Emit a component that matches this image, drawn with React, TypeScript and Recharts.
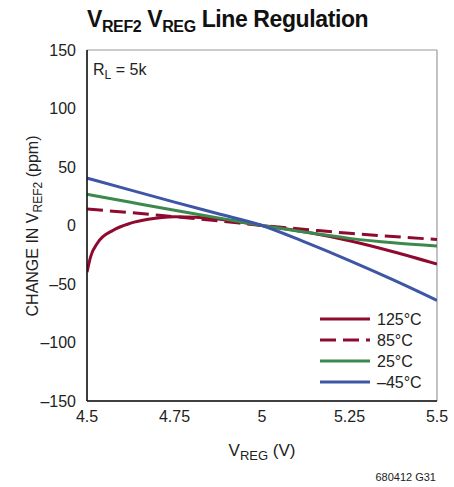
import React from "react";
import { LineChart, Line, XAxis, YAxis, CartesianGrid } from "recharts";

// V_REG sample points (volts)
const vreg125 = [4.5, 4.51, 4.53, 4.575, 4.625, 4.675, 4.75, 4.875, 5, 5.125, 5.25, 5.375, 5.5];
const vregStd = [4.5, 4.625, 4.75, 4.875, 5, 5.125, 5.25, 5.375, 5.5];

// change in V_REF2 (ppm)
const ppm125 = [-40, -27, -15, -4, 2, 5.3, 7.5, 5.5, 0, -5.6, -13, -22.4, -33];
const ppm85 = [14, 11, 7.5, 4, 0, -3.4, -6.7, -9.4, -12];
const ppm25 = [26.7, 19.8, 13, 6.5, 0, -5.8, -11, -14.8, -17.5];
const ppmM45 = [40.5, 30.2, 20, 10, 0, -14.5, -30, -46.5, -64];

const xTicks = [4.5, 4.75, 5, 5.25, 5.5];
const yTicks = [-150, -100, -50, 0, 50, 100, 150];
const legendLabels = ["125°C", "85°C", "25°C", "–45°C"];

const RED = "#8e0a2f";
const GREEN = "#3b8a4c";
const BLUE = "#3d56a6";
const FONT = "'Liberation Sans Narrow', 'Arial Narrow', 'Liberation Sans', sans-serif";

const toRows = (xs: number[], ys: number[]) => xs.map((v, i) => ({ v, ppm: ys[i] }));

const series = [
  { name: legendLabels[0], data: toRows(vreg125, ppm125), color: RED, dash: undefined },
  { name: legendLabels[1], data: toRows(vregStd, ppm85), color: RED, dash: "16 7" },
  { name: legendLabels[2], data: toRows(vregStd, ppm25), color: GREEN, dash: undefined },
  { name: legendLabels[3], data: toRows(vregStd, ppmM45), color: BLUE, dash: undefined },
];

const tickStyle = { fontSize: 16, fill: "#222", fontFamily: FONT };
const fmtY = (n: number) => (n < 0 ? "\u2013" + Math.abs(n) : String(n));

const Overlay = () => (
  <svg
    width={454}
    height={487}
    style={{ position: "absolute", left: 0, top: 0, pointerEvents: "none" }}
    fontFamily={FONT}
  >
    <text x={87} y={27} fontSize={23} fontWeight="bold" fill="#111" letterSpacing={-0.4}>
      V<tspan fontSize={16} dy={5}>REF2</tspan>
      <tspan dy={-5}> V</tspan>
      <tspan fontSize={16} dy={5}>REG</tspan>
      <tspan dy={-5}> Line Regulation</tspan>
    </text>

    <text x={93} y={75} fontSize={16} fill="#222">
      R<tspan fontSize={12} dy={4}>L</tspan>
      <tspan dy={-4}> = 5k</tspan>
    </text>

    <text x={262} y={456} fontSize={17} fill="#222" textAnchor="middle">
      V<tspan fontSize={13} dy={4}>REG</tspan>
      <tspan dy={-4}> (V)</tspan>
    </text>

    <text
      transform="translate(38, 226) rotate(-90)"
      fontSize={16}
      fill="#222"
      textAnchor="middle"
    >
      CHANGE IN V<tspan fontSize={12} dy={4}>REF2</tspan>
      <tspan dy={-4}> (ppm)</tspan>
    </text>

    <text x={436} y={481} fontSize={11} fill="#222" textAnchor="end">
      680412 G31
    </text>

    <rect x={312} y={304} width={124} height={95} fill="#fff" />
    {series.map((s, i) => (
      <g key={s.name}>
        <line
          x1={320}
          x2={370}
          y1={319 + i * 21}
          y2={319 + i * 21}
          stroke={s.color}
          strokeWidth={3}
          strokeDasharray={s.dash}
        />
        <text x={377} y={325 + i * 21} fontSize={16} fill="#222">
          {s.name}
        </text>
      </g>
    ))}
  </svg>
);

export default function App() {
  return (
    <div style={{ position: "absolute", left: 0, top: 0, width: 454, height: 487, background: "#fff" }}>
      <LineChart width={454} height={487} margin={{ top: 50, right: 17, bottom: 56, left: 0 }}>
        <CartesianGrid stroke="#999" strokeWidth={1.2} />
        <XAxis
          xAxisId="b"
          type="number"
          dataKey="v"
          domain={[4.5, 5.5]}
          ticks={xTicks}
          allowDataOverflow
          height={30}
          tickLine={false}
          tickSize={6}
          tickMargin={4}
          axisLine={{ stroke: "#111", strokeWidth: 1.5 }}
          tick={tickStyle}
        />
        <XAxis
          xAxisId="t"
          orientation="top"
          type="number"
          domain={[4.5, 5.5]}
          height={0}
          tick={false}
          tickLine={false}
          axisLine={{ stroke: "#111", strokeWidth: 1.5 }}
        />
        <YAxis
          yAxisId="l"
          type="number"
          domain={[-150, 150]}
          ticks={yTicks}
          tickFormatter={fmtY}
          allowDataOverflow
          width={87}
          tickLine={false}
          tickSize={6}
          tickMargin={5}
          axisLine={{ stroke: "#111", strokeWidth: 1.5 }}
          tick={tickStyle}
        />
        <YAxis
          yAxisId="r"
          orientation="right"
          domain={[-150, 150]}
          width={0}
          tick={false}
          tickLine={false}
          axisLine={{ stroke: "#111", strokeWidth: 1.5 }}
        />
        {series.map((s) => (
          <Line
            key={s.name}
            xAxisId="b"
            yAxisId="l"
            data={s.data}
            dataKey="ppm"
            type="monotone"
            stroke={s.color}
            strokeWidth={3}
            strokeDasharray={s.dash}
            dot={false}
            isAnimationActive={false}
          />
        ))}
      </LineChart>
      <Overlay />
    </div>
  );
}
